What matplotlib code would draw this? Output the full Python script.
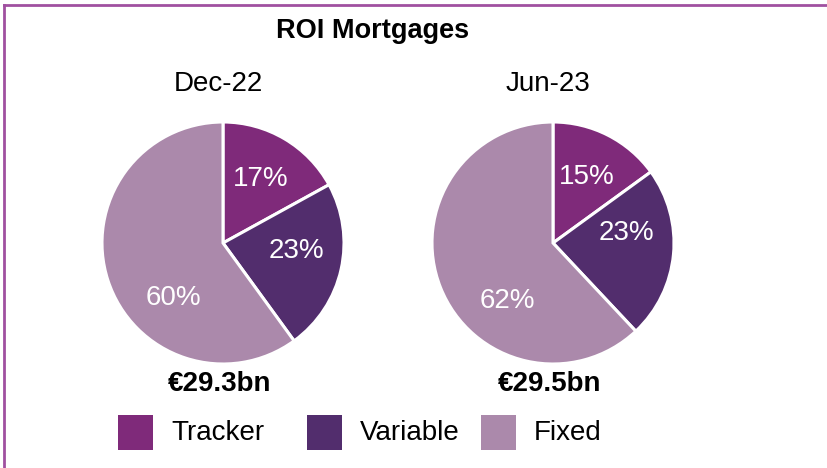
import matplotlib
matplotlib.use("Agg")
import numpy as np
import matplotlib.pyplot as plt
from matplotlib.patches import Rectangle
from matplotlib.lines import Line2D

plt.rcParams['font.family'] = ['Liberation Sans', 'DejaVu Sans']

segments = ["Tracker", "Variable", "Fixed"]
colors = ["#7F2A7A", "#522D6D", "#AB89AB"]
periods = ["Dec-22", "Jun-23"]
shares = [[17, 23, 60], [15, 23, 62]]
totals = ["€29.3bn", "€29.5bn"]

# angular nudge (degrees) for each percentage label
label_shift = [[0, 6, 30], [0, 13, 30]]

W, H = 828, 468
fig = plt.figure(figsize=(W / 100, H / 100), dpi=100)

fig.text(373 / W, 1 - 31 / H, "ROI Mortgages", ha="center", va="center",
         fontsize=19.5, fontweight="bold")

centers = [223, 553]
radius = 121
for cx, period, vals, total, shifts in zip(centers, periods, shares, totals, label_shift):
    ax = fig.add_axes([(cx - radius) / W, (H - 243 - radius) / H,
                       2 * radius / W, 2 * radius / H])
    wedges, _ = ax.pie(vals, colors=colors, startangle=90, counterclock=False,
                       wedgeprops=dict(edgecolor="white", linewidth=2.2))
    for w, v, s in zip(wedges, vals, shifts):
        ang = np.deg2rad((w.theta1 + w.theta2) / 2 + s)
        ax.text(0.61 * np.cos(ang), 0.61 * np.sin(ang), f"{v}%",
                ha="center", va="center", color="white", fontsize=20)
    ax.set_xlim(-1, 1)
    ax.set_ylim(-1, 1)
    ax.set_aspect("equal")
    fig.text((cx - 5) / W, 1 - 84 / H, period, ha="center", va="center",
             fontsize=20)
    fig.text((cx - 3) / W, 1 - 384 / H, total, ha="center", va="center",
             fontsize=20, fontweight="bold")

# legend keys laid out along the bottom
key_x = [118, 307, 481]
for x, c, name in zip(key_x, colors, segments):
    fig.add_artist(Rectangle((x / W, (H - 450) / H), 35 / W, 35 / H,
                             facecolor=c, edgecolor="none",
                             transform=fig.transFigure))
    fig.text((x + 53) / W, 1 - 433 / H, name, ha="left", va="center",
             fontsize=20)

# purple frame along top and left edges
fig.add_artist(Line2D([4 / W, 4 / W], [0, 1 - 5 / H], color="#A050A0",
                      linewidth=2, transform=fig.transFigure))
fig.add_artist(Line2D([4 / W, 1], [1 - 5 / H, 1 - 5 / H], color="#A050A0",
                      linewidth=2, transform=fig.transFigure))

fig.savefig("out.png", dpi=100)
